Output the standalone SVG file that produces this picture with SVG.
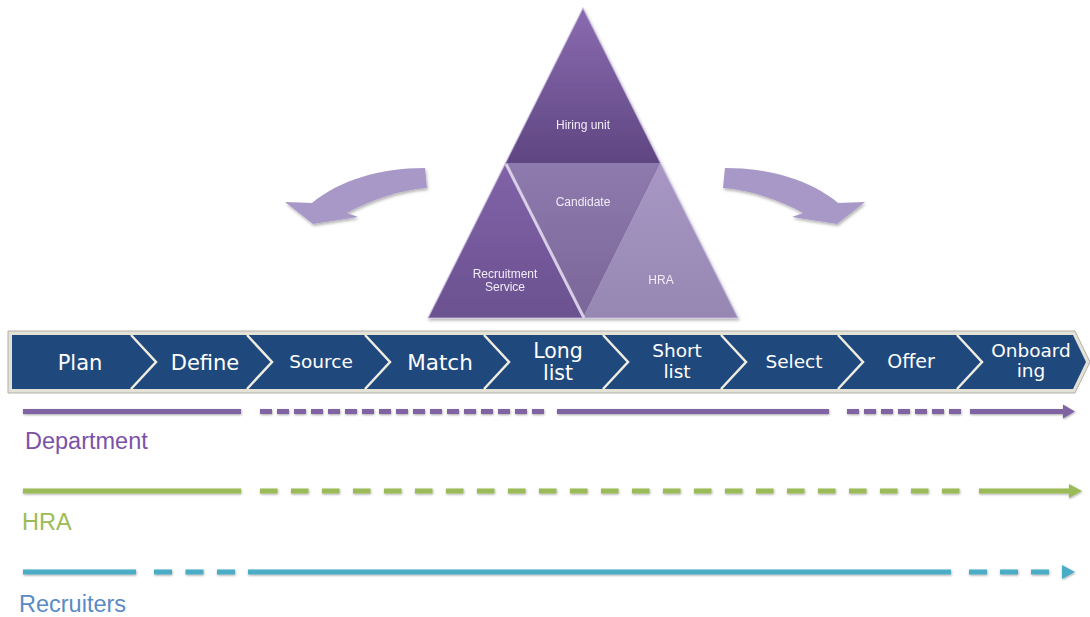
<svg xmlns="http://www.w3.org/2000/svg" width="1090" height="617" viewBox="0 0 1090 617">
  <defs>
    <style>
      .tri-label { font-family: "Liberation Sans", Arial, sans-serif; font-size: 12px; fill: #f1ecf7; text-anchor: middle; }
      .step { font-family: "DejaVu Sans", Verdana, sans-serif; fill: #ffffff; text-anchor: middle; }
      .divider { fill: none; stroke: #efece0; stroke-width: 2.5; }
      .lane-label { font-family: "Liberation Sans", Arial, sans-serif; font-size: 23.5px; }
      .dept { stroke: #8064a2; stroke-width: 5; fill: none; }
      .hra { stroke: #9bbb59; stroke-width: 5; fill: none; }
      .rec { stroke: #4bacc6; stroke-width: 5; fill: none; }
      .curve { fill: #a898c8; }
    </style>
    <filter id="shadow" x="-10%" y="-10%" width="120%" height="140%">
      <feDropShadow dx="1" dy="2" stdDeviation="1.5" flood-color="#000" flood-opacity="0.3"/>
    </filter>
    <filter id="lshadow" filterUnits="userSpaceOnUse" x="0" y="0" width="1090" height="617">
      <feDropShadow dx="0.5" dy="1" stdDeviation="0.8" flood-color="#000" flood-opacity="0.35"/>
    </filter>
    <linearGradient id="gTop" x1="0" y1="0" x2="0" y2="1">
      <stop offset="0" stop-color="#8a6bb0"/>
      <stop offset="1" stop-color="#5f4682"/>
    </linearGradient>
    <linearGradient id="gLeft" x1="0" y1="0" x2="0" y2="1">
      <stop offset="0" stop-color="#8163a8"/>
      <stop offset="1" stop-color="#6b5190"/>
    </linearGradient>
    <linearGradient id="gMid" x1="0" y1="0" x2="0" y2="1">
      <stop offset="0" stop-color="#8f7aad"/>
      <stop offset="1" stop-color="#7a6698"/>
    </linearGradient>
    <linearGradient id="gRight" x1="0" y1="0" x2="0" y2="1">
      <stop offset="0" stop-color="#a897c4"/>
      <stop offset="1" stop-color="#9686b2"/>
    </linearGradient>
    <marker id="arrDept" markerUnits="userSpaceOnUse" markerWidth="14" markerHeight="16" refX="0" refY="8" orient="auto">
      <path d="M0,1 L12,8 L0,15 Z" fill="#8064a2"/>
    </marker>
    <marker id="arrHra" markerUnits="userSpaceOnUse" markerWidth="14" markerHeight="16" refX="0" refY="8" orient="auto">
      <path d="M0,1 L13,8 L0,15 Z" fill="#9bbb59"/>
    </marker>
  </defs>

  <!-- Pyramid -->
  <g id="pyramid" filter="url(#shadow)">
    <g id="node-hiring-unit">
      <polygon points="583,8 505.5,163 660.5,163" fill="url(#gTop)"/>
      <text class="tri-label" x="583" y="129">Hiring unit</text>
    </g>
    <g id="node-recruitment-service">
      <polygon points="505.5,163 428,318 583,318" fill="url(#gLeft)"/>
      <text class="tri-label" x="505" y="278">Recruitment</text>
      <text class="tri-label" x="505" y="291">Service</text>
    </g>
    <g id="node-candidate">
      <polygon points="505.5,163 660.5,163 583,318" fill="url(#gMid)"/>
      <text class="tri-label" x="583" y="206">Candidate</text>
    </g>
    <g id="node-hra">
      <polygon points="660.5,163 583,318 738,318" fill="url(#gRight)"/>
      <text class="tri-label" x="661" y="284">HRA</text>
    </g>
    <line x1="506" y1="164" x2="584" y2="318" stroke="#e6def2" stroke-width="3" opacity="0.85"/>
    <polygon points="583,8 428,318 738,318" fill="none" stroke="#c9bde0" stroke-width="1.2" opacity="0.8"/>
  </g>

  <!-- Process chevron bar -->
  <g id="process-bar">
    <polygon points="8,331 1075,331 1090,362 1075,393 8,393" fill="#e4e1d6" stroke="#b0afa8" stroke-width="1"/>
    <polygon points="12,335 1073,335 1086,362 1073,389 12,389" fill="#1f497d"/>
    <g id="step-plan"><text class="step" x="80" y="370" font-size="21">Plan</text></g>
    <polyline class="divider" points="131,335 156,362 131,389"/>
    <g id="step-define"><text class="step" x="205" y="370" font-size="21">Define</text></g>
    <polyline class="divider" points="247,335 272,362 247,389"/>
    <g id="step-source"><text class="step" x="321" y="368" font-size="18.5">Source</text></g>
    <polyline class="divider" points="365,335 390,362 365,389"/>
    <g id="step-match"><text class="step" x="440" y="370" font-size="21.5">Match</text></g>
    <polyline class="divider" points="484,335 509,362 484,389"/>
    <g id="step-longlist">
      <text class="step" x="558" y="358" font-size="20.5">Long</text>
      <text class="step" x="558" y="380" font-size="20.5">list</text>
    </g>
    <polyline class="divider" points="603,335 628,362 603,389"/>
    <g id="step-shortlist">
      <text class="step" x="677" y="357" font-size="18.5">Short</text>
      <text class="step" x="677" y="378" font-size="18.5">list</text>
    </g>
    <polyline class="divider" points="721,335 746,362 721,389"/>
    <g id="step-select"><text class="step" x="794" y="368" font-size="18.5">Select</text></g>
    <polyline class="divider" points="838,335 863,362 838,389"/>
    <g id="step-offer"><text class="step" x="911" y="368" font-size="19">Offer</text></g>
    <polyline class="divider" points="957,335 982,362 957,389"/>
    <g id="step-onboarding">
      <text class="step" x="1031" y="357" font-size="18.5">Onboard</text>
      <text class="step" x="1031" y="377" font-size="18.5">ing</text>
    </g>
  </g>

  <!-- Lane labels -->
  <g id="lane-department"><text class="lane-label" x="25" y="449" fill="#7b52a8">Department</text></g>
  <g id="lane-hra"><text class="lane-label" x="22" y="530" fill="#9bbb59">HRA</text></g>
  <g id="lane-recruiters"><text class="lane-label" x="19" y="612" fill="#5a8ac6">Recruiters</text></g>

  <!-- Connectors -->
  <g id="connectors">
    <g id="curved-arrows" filter="url(#shadow)">
      <path class="curve" d="M425,168 C380,168 340,180 312,203 L285,202 L313,224 L358,217 L347,213 C370,200 400,190 427,188 Z"/>
      <path class="curve" transform="translate(1150,0) scale(-1,1)" d="M425,168 C380,168 340,180 312,203 L285,202 L313,224 L358,217 L347,213 C370,200 400,190 427,188 Z"/>
    </g>
    <g id="dept-line" filter="url(#lshadow)">
      <line class="dept" x1="23" y1="411.5" x2="241" y2="411.5"/>
      <line class="dept" x1="260" y1="411.5" x2="549" y2="411.5" stroke-dasharray="12 5"/>
      <line class="dept" x1="557" y1="411.5" x2="829" y2="411.5"/>
      <line class="dept" x1="847" y1="411.5" x2="962" y2="411.5" stroke-dasharray="12 5"/>
      <line class="dept" x1="970" y1="411.5" x2="1063" y2="411.5" marker-end="url(#arrDept)"/>
    </g>
    <g id="hra-line" filter="url(#lshadow)">
      <line class="hra" x1="23" y1="491" x2="241" y2="491"/>
      <line class="hra" x1="260" y1="491" x2="961" y2="491" stroke-dasharray="17.5 13.5"/>
      <line class="hra" x1="979" y1="491" x2="1069" y2="491" marker-end="url(#arrHra)"/>
    </g>
    <g id="rec-line" filter="url(#lshadow)">
      <line class="rec" x1="23" y1="572" x2="136" y2="572"/>
      <line class="rec" x1="154" y1="572" x2="235" y2="572" stroke-dasharray="18 13.5"/>
      <line class="rec" x1="248" y1="572" x2="951" y2="572"/>
      <line class="rec" x1="969" y1="572" x2="1049" y2="572" stroke-dasharray="18 13"/>
      <polygon points="1062,565 1075,572 1062,579" fill="#4bacc6"/>
    </g>
  </g>
</svg>
